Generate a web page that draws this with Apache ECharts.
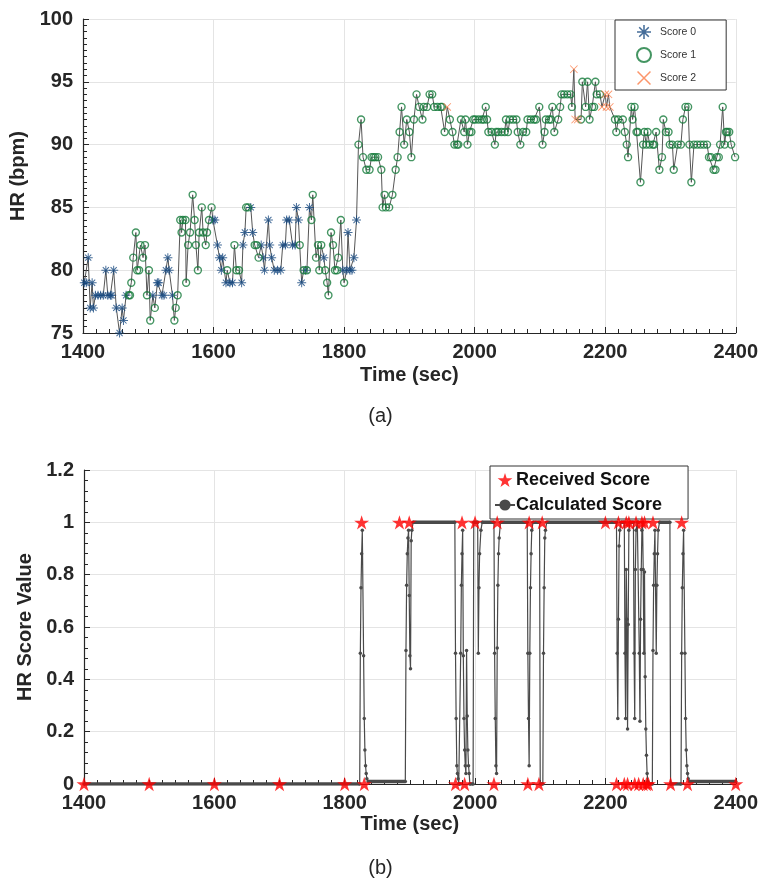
<!DOCTYPE html>
<html><head><meta charset="utf-8">
<script src="https://cdn.jsdelivr.net/npm/echarts@6/dist/echarts.min.js"></script>
<style>html,body{margin:0;padding:0;background:#fff}#c{width:761px;height:888px}</style>
</head><body><div id="c"></div>
<script>
// ---------- Panel (a): heart rate samples ----------
const hrTime = [1402,1405,1408,1411,1414,1416,1419,1423,1427,1431,1435,1438,1442,1444,1447,1451,1456,1460,1462,1466,
1470,1472,1474,1477,1481,1483,1486,1488,1492,1495,1498,1501,1503,1507,1510,1514,1516,1521,1524,1527,1530,1532,1537,
1540,1542,1545,1549,1551,1553,1557,1558,1561,1564,1568,1571,1573,1576,1578,1582,1584,1588,1590,1593,1597,1599,1602,
1606,1609,1612,1614,1619,1621,1625,1629,1632,1635,1639,1643,1645,1648,1650,1653,1657,1660,1663,1666,1669,1673,1676,
1678,1684,1686,1689,1693,1698,1703,1706,1710,1712,1716,1721,1725,1727,1730,1732,1735,1738,1741,1743,1747,1750,1752,
1757,1760,1762,1765,1769,1771,1774,1776,1780,1783,1786,1789,1791,1795,1798,1800,1804,1806,1809,1812,1815,1819,
1822,1826,1829,1834,1839,1842,1845,1848,1852,1857,1859,1862,1864,1869,1874,1879,1882,1885,1888,1892,1896,1900,1903,
1907,1911,1915,1920,1922,1927,1931,1935,1938,1943,1948,1950,1954,1958,1962,1966,1969,1973,1975,1979,1984,1986,1989,
1992,1995,1998,2001,2006,2011,2014,2017,2019,2021,2026,2031,2033,2036,2041,2046,2048,2051,2054,2059,2064,2066,2070,
2074,2079,2081,2086,2091,2094,2099,2104,2107,2109,2114,2117,2119,2122,2128,2131,2133,2137,2142,2147,2149,2152,2154,
2158,2163,2165,2170,2173,2176,2180,2183,2185,2187,2192,2195,2200,2202,2205,2207,2215,2217,2220,2227,2230,2233,2235,
2240,2242,2245,2248,2250,2254,2258,2260,2263,2265,2268,2273,2275,2278,2283,2287,2289,2293,2297,2299,2303,2305,2311,
2316,2319,2323,2327,2329,2332,2336,2341,2346,2351,2356,2359,2362,2366,2369,2371,2374,2376,2380,2383,2385,2387,2390,
2393,2399];
const hrValue = [79,79,81,77,79,77,78,78,78,78,80,78,78,78,80,77,75,77,76,78,
78,78,79,81,83,80,80,82,81,82,78,80,76,78,77,79,79,78,78,80,81,80,78,
76,77,78,84,83,84,84,79,82,83,86,84,82,80,83,85,83,82,83,84,85,84,84,
82,81,80,81,79,80,79,79,82,80,80,79,82,83,85,85,85,83,82,82,81,82,81,
80,84,82,81,80,80,80,82,82,84,84,82,82,85,84,82,79,80,80,80,85,84,86,
81,82,80,82,81,80,79,78,83,82,80,80,81,84,80,79,80,83,80,80,81,84,
90,92,89,88,88,89,89,89,89,88,85,86,85,85,86,88,89,91,93,90,92,91,89,
92,94,93,92,93,93,94,94,93,93,93,93,91,93,92,91,90,90,90,92,91,92,90,
91,91,92,92,92,92,92,93,92,91,91,90,91,91,91,91,92,91,92,92,92,91,90,
91,91,92,92,92,92,93,90,91,92,92,92,93,91,92,93,94,94,94,94,93,96,92,
92,92,95,93,95,92,93,93,95,94,94,93,94,93,94,93,92,91,92,92,91,90,89,
93,92,93,91,91,87,90,91,90,91,90,90,90,91,88,89,92,91,91,90,90,88,90,
90,92,93,93,90,87,90,90,90,90,90,89,89,88,88,89,89,90,93,90,91,91,91,
90,89];
const hrScore = [0,0,0,0,0,0,0,0,0,0,0,0,0,0,0,0,0,0,0,0,
1,1,1,1,1,1,1,1,1,1,1,1,1,0,1,0,0,0,0,0,0,0,0,
1,1,1,1,1,1,1,1,1,1,1,1,1,1,1,1,1,1,1,1,1,0,0,
0,0,0,0,0,1,0,0,1,1,1,0,0,0,1,1,0,0,1,1,1,0,0,
0,0,0,0,0,0,0,0,0,0,0,0,0,0,0,1,0,1,0,1,0,1,1,
1,1,1,1,0,1,1,1,1,1,1,1,1,1,0,1,0,0,0,0,0,0,
1,1,1,1,1,1,1,1,1,1,1,1,1,1,1,1,1,1,1,1,1,1,1,
1,1,1,1,1,1,1,1,1,1,1,1,1,2,1,1,1,1,1,1,1,1,1,
1,1,1,1,1,1,1,1,1,1,1,1,1,1,1,1,1,1,1,1,1,1,1,
1,1,1,1,1,1,1,1,1,1,1,1,1,1,1,1,1,1,1,1,1,2,2,
2,1,1,1,1,1,1,1,1,1,1,2,2,2,2,2,1,1,1,1,1,1,1,
1,1,1,1,1,1,1,1,1,1,1,1,1,1,1,1,1,1,1,1,1,1,1,
1,1,1,1,1,1,1,1,1,1,1,1,1,1,1,1,1,1,1,1,1,1,1,
1,1];
const scoreNames = ['Score 0','Score 1','Score 2'];
const xTicks = [1400,1600,1800,2000,2200,2400];

// ---------- Panel (b): HR score ----------
const recvTime  = [1400,1500,1600,1700,1800,1826,1830,1884,1899,1970,1980,1984,2000,2029,2034,2081,2083,2098,2103,
2200,2217,2220,2229,2232,2234,2236,2245,2247,2251,2256,2258,2260,2263,2266,2273,2300,2317,2326,2400];
const recvValue = [0,0,0,0,0,1,0,1,1,0,1,0,1,0,1,0,1,0,1,
1,0,1,0,1,0,1,0,1,0,1,0,1,0,0,1,0,1,0,0];
const calcTime = [1400,1823,1824,1825,1826,1827,1829,1830,1831,1832,1833,1834,1836,1893,1894,1895,1896,1897,1898,1899,1900,1901,1902,1903,1905,
1969,1970,1971,1972,1973,1974,1975,1977,1978,1979,1980,1981,1982,1983,1984,1985,1986,1987,1988,1989,1990,1991,1992,1997,1998,2004,2005,2006,2007,2009,2011,
2029,2030,2031,2032,2033,2034,2035,2036,2037,2039,
2080,2081,2082,2083,2084,2085,2086,2087,2089,
2099,2100,2104,2105,2106,2107,2108,2110,
2217,2218,2219,2220,2221,2222,2224,
2229,2230,2231,2232,2233,2234,2235,2236,2238,
2243,2244,2245,2246,2247,2249,
2251,2252,2253,2254,2255,2256,2257,2258,2259,2260,2261,2262,2263,2264,2265,2267,2272,2273,2274,2275,2276,2278,2279,2280,2281,2283,
2299,2300,2316,2317,2318,2319,2320,2322,2323,2324,2325,2326,2327,2329,2400];
const calcValue = [0,0,0.5,0.75,0.88,0.97,0.49,0.25,0.13,0.07,0.04,0.02,0.01,0.01,0.51,0.76,0.88,0.94,0.97,0.72,0.49,0.44,0.93,0.97,1,
1,0.5,0.25,0.07,0.04,0.02,0,0,0.5,0.76,0.88,0.97,0.49,0.25,0.13,0.07,0.04,0.51,0.26,0.13,0.07,0.04,0,0,1,1,0.5,0.75,0.88,0.97,1,
1,0.5,0.25,0.07,0.04,0.52,0.76,0.88,0.94,1,
1,0.5,0.25,0.07,0.5,0.75,0.88,0.97,1,
1,0,0,0.5,0.75,0.94,0.97,1,
1,0.5,0.25,0.63,0.91,0.97,1,
1,0.5,0.25,0.82,0.63,0.21,0.61,0.97,1,
1,0.5,0.25,0.82,0.97,1,
1,0.5,0.24,0.63,0.82,0.97,1,0.82,0.5,0.81,0.41,0.21,0.11,0.04,0.01,0,0,0.51,0.76,0.88,0.97,0.5,0.76,0.88,0.97,1,
1,0,0,0.5,0.75,0.88,0.97,0.5,0.25,0.13,0.07,0.04,0.02,0.01,0.01];
const scoreTicks = [0,0.2,0.4,0.6,0.8,1,1.2];

// ---------- styling ----------
const FONT = "'Liberation Sans', Arial, Helvetica, sans-serif";
const TXT = '#262626';
const ASTERISK = 'path://M4.45,0 H5.55 V10 H4.45 Z M0,4.45 H10 V5.55 H0 Z M1.2,1.98 L1.98,1.2 L8.8,8.02 L8.02,8.8 Z M8.02,1.2 L8.8,1.98 L1.98,8.8 L1.2,8.02 Z';
const XMARK = 'path://M0,0.75 L0.75,0 L10,9.25 L9.25,10 Z M9.25,0 L10,0.75 L0.75,10 L0,9.25 Z';
const STAR = 'path://M50,0 L61.2,34.5 L97.6,34.5 L68.2,55.9 L79.4,90.5 L50,69.1 L20.6,90.5 L31.8,55.9 L2.4,34.5 L38.8,34.5 Z';

function pts(times, vals, keep) {
  const out = [];
  for (let i = 0; i < times.length; i++) if (!keep || keep(i)) out.push([times[i], vals[i]]);
  return out;
}
// plateau segments (flat runs of the calculated score) drawn heavier
const plateau = [];
for (let i = 0; i + 1 < calcTime.length; i++) {
  if (calcValue[i] === calcValue[i + 1] && calcTime[i + 1] - calcTime[i] >= 2) {
    plateau.push([calcTime[i], calcValue[i]], [calcTime[i + 1], calcValue[i + 1]], [calcTime[i + 1], null]);
  }
}

function xAxisCfg(grid, gap) {
  return {
    type: 'value', gridIndex: grid, min: xTicks[0], max: xTicks[xTicks.length - 1], interval: 200,
    name: 'Time (sec)', nameLocation: 'middle', nameGap: gap,
    nameTextStyle: { fontFamily: FONT, fontWeight: 'bold', fontSize: 20, color: TXT },
    axisLine: { lineStyle: { color: '#262626', width: 1.2 } },
    axisTick: { inside: true, length: 6, lineStyle: { color: '#262626' } },
    minorTick: { show: true, splitNumber: 10, length: 4, lineStyle: { color: '#262626' } },
    splitLine: { show: true, lineStyle: { color: '#e4e4e4', width: 1 } },
    axisLabel: { fontFamily: FONT, fontWeight: 'bold', fontSize: 20, color: TXT, margin: 9, formatter: v => String(v) }
  };
}

const option = {
  animation: false,
  backgroundColor: '#fff',
  grid: [
    { left: 83, right: 17, top: 19, height: 314 },
    { left: 84, right: 17, top: 470, height: 314 }
  ],
  xAxis: [xAxisCfg(0, 32), xAxisCfg(1, 30)],
  yAxis: [
    {
      type: 'value', gridIndex: 0, min: 75, max: 100, interval: 5,
      name: 'HR (bpm)', nameLocation: 'middle', nameGap: 48, nameRotate: 90,
      nameTextStyle: { fontFamily: FONT, fontWeight: 'bold', fontSize: 20, color: TXT },
      axisLine: { show: true, lineStyle: { color: '#262626', width: 1.2 } },
      axisTick: { show: true, inside: true, length: 6, lineStyle: { color: '#262626' } },
      minorTick: { show: true, splitNumber: 10, length: 4, lineStyle: { color: '#262626' } },
      splitLine: { show: true, lineStyle: { color: '#e4e4e4', width: 1 } },
      axisLabel: { fontFamily: FONT, fontWeight: 'bold', fontSize: 20, color: TXT, margin: 10 }
    },
    {
      type: 'value', gridIndex: 1, min: scoreTicks[0], max: scoreTicks[scoreTicks.length - 1], interval: 0.2,
      name: 'HR Score Value', nameLocation: 'middle', nameGap: 46, nameRotate: 90,
      nameTextStyle: { fontFamily: FONT, fontWeight: 'bold', fontSize: 20, color: TXT },
      axisLine: { show: true, lineStyle: { color: '#262626', width: 1.2 } },
      axisTick: { show: true, inside: true, length: 6, lineStyle: { color: '#262626' } },
      minorTick: { show: true, splitNumber: 5, length: 4, lineStyle: { color: '#262626' } },
      splitLine: { show: true, lineStyle: { color: '#e4e4e4', width: 1 } },
      axisLabel: {
        fontFamily: FONT, fontWeight: 'bold', fontSize: 20, color: TXT, margin: 10,
        formatter: v => (Math.abs(v) < 1e-9 ? '0' : Math.abs(v - 1) < 1e-9 ? '1' : v.toFixed(1))
      }
    }
  ],
  legend: [
    {
      data: scoreNames, orient: 'vertical', left: 615, top: 20,
      padding: [5, 30, 5, 21], itemGap: 8, itemWidth: 14, itemHeight: 14,
      backgroundColor: '#fff', borderColor: '#333', borderWidth: 1,
      textStyle: { fontFamily: FONT, fontSize: 10.5, color: '#333', padding: [0, 0, 0, 4] }
    },
    {
      data: ['Received Score', { name: 'Calculated Score', itemStyle: { color: '#4a4a4a' } }],
      orient: 'vertical', left: 490, top: 466,
      padding: [5, 26, 5, 4], itemGap: 7, itemWidth: 20, itemHeight: 14,
      backgroundColor: '#fff', borderColor: '#333', borderWidth: 1,
      textStyle: { fontFamily: FONT, fontWeight: 'bold', fontSize: 18, color: '#111', padding: [0, 0, 0, -4] }
    }
  ],
  graphic: [
    { type: 'text', left: 'center', top: 406, style: { text: '(a)', font: "20px " + FONT, fill: TXT } },
    { type: 'text', left: 'center', top: 858, style: { text: '(b)', font: "20px " + FONT, fill: TXT } }
  ],
  series: [
    {
      name: 'HR', type: 'line', xAxisIndex: 0, yAxisIndex: 0, data: pts(hrTime, hrValue),
      showSymbol: false, silent: true, lineStyle: { color: '#555', width: 1 }, z: 1
    },
    {
      name: 'Score 0', type: 'scatter', xAxisIndex: 0, yAxisIndex: 0,
      data: pts(hrTime, hrValue, i => hrScore[i] === 0),
      symbol: ASTERISK, symbolSize: 9, symbolKeepAspect: true,
      itemStyle: { color: '#17487f' }, z: 3
    },
    {
      name: 'Score 1', type: 'scatter', xAxisIndex: 0, yAxisIndex: 0,
      data: pts(hrTime, hrValue, i => hrScore[i] === 1),
      symbol: 'circle', symbolSize: 7,
      itemStyle: { color: 'rgba(255,255,255,0)', borderColor: '#157a3b', borderWidth: 1.4 }, z: 3
    },
    {
      name: 'Score 2', type: 'scatter', xAxisIndex: 0, yAxisIndex: 0,
      data: pts(hrTime, hrValue, i => hrScore[i] === 2),
      symbol: XMARK, symbolSize: 8, symbolKeepAspect: true,
      itemStyle: { color: '#fb7a45' }, z: 4
    },
    {
      name: 'plateau', type: 'line', xAxisIndex: 1, yAxisIndex: 1, data: plateau,
      showSymbol: false, silent: true, connectNulls: false,
      lineStyle: { color: '#4a4a4a', width: 3.5 }, z: 2
    },
    {
      name: 'Calculated Score', type: 'line', xAxisIndex: 1, yAxisIndex: 1, data: pts(calcTime, calcValue),
      symbol: 'circle', symbolSize: 3.5, showSymbol: true,
      lineStyle: { color: '#4a4a4a', width: 1.2 }, itemStyle: { color: '#4a4a4a' }, z: 3
    },
    {
      name: 'Received Score', type: 'scatter', xAxisIndex: 1, yAxisIndex: 1, data: pts(recvTime, recvValue),
      symbol: STAR, symbolSize: 15, symbolKeepAspect: true,
      itemStyle: { color: '#ff0000' }, z: 5
    }
  ]
};
const chart = echarts.init(document.getElementById('c'), null, { renderer: 'canvas' });
chart.setOption(option);
</script>
</body></html>
